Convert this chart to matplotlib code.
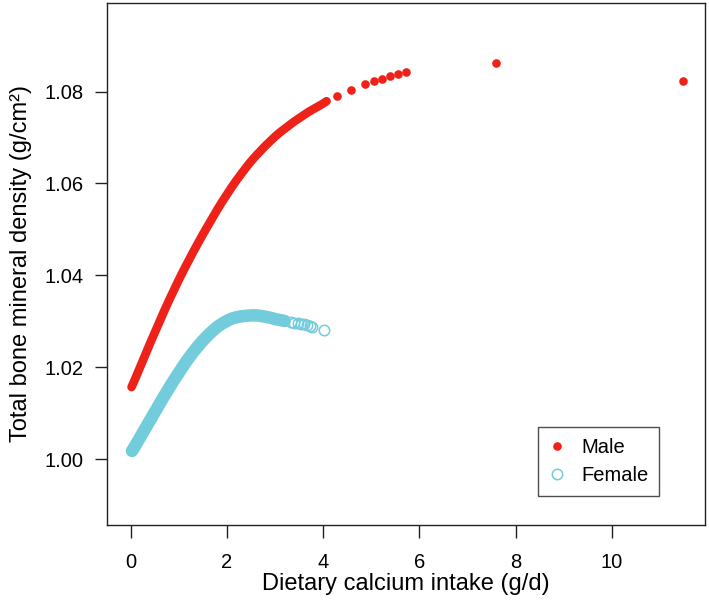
import matplotlib
matplotlib.use("Agg")
import matplotlib.pyplot as plt
from matplotlib.lines import Line2D

plt.rcParams['font.family'] = ['Liberation Sans', 'DejaVu Sans']

# ---- data ----
male_curve_x = [0.02, 0.1, 0.2, 0.3, 0.4, 0.5, 0.6, 0.7, 0.8, 0.9, 1.0, 1.1, 1.2, 1.3, 1.4,
                1.5, 1.6, 1.7, 1.8, 1.9, 2.0, 2.1, 2.2, 2.3, 2.4, 2.5, 2.6, 2.7, 2.8, 2.9,
                3.0, 3.1, 3.2, 3.3, 3.4, 3.5, 3.6, 3.7, 3.8, 3.9, 4.0, 4.07]
male_curve_y = [1.0157, 1.0176, 1.0201, 1.0226, 1.0251, 1.0275, 1.0299, 1.0323, 1.0346, 1.0368,
                1.0390, 1.0411, 1.0431, 1.0451, 1.0470, 1.0489, 1.0507, 1.0525, 1.0543, 1.0560,
                1.0576, 1.0592, 1.0607, 1.0621, 1.0635, 1.0648, 1.0660, 1.0671, 1.0682, 1.0692,
                1.0702, 1.0711, 1.0719, 1.0727, 1.0735, 1.0742, 1.0749, 1.0756, 1.0762, 1.0768,
                1.0774, 1.0779]
male_sparse_x = [4.28, 4.57, 4.87, 5.05, 5.22, 5.38, 5.56, 5.72, 7.58, 11.47]
male_sparse_y = [1.0791, 1.0804, 1.0816, 1.0822, 1.0828, 1.0834, 1.0838, 1.0842, 1.0863, 1.0823]

female_curve_x = [0.03, 0.1, 0.2, 0.3, 0.4, 0.5, 0.6, 0.7, 0.8, 0.9, 1.0, 1.1, 1.2, 1.3, 1.4,
                  1.5, 1.6, 1.7, 1.8, 1.9, 2.0, 2.1, 2.2, 2.3, 2.4, 2.5, 2.6, 2.7, 2.8, 2.9,
                  3.0, 3.1, 3.2]
female_curve_y = [1.0018, 1.0030, 1.0048, 1.0066, 1.0084, 1.0102, 1.0120, 1.0138, 1.0155, 1.0172,
                  1.0188, 1.0204, 1.0219, 1.0233, 1.0246, 1.0258, 1.0269, 1.0279, 1.0288, 1.0295,
                  1.0301, 1.0306, 1.0309, 1.0311, 1.0312, 1.0313, 1.0313, 1.0312, 1.0310, 1.0308,
                  1.0305, 1.0303, 1.0301]
female_sparse_x = [3.34, 3.40, 3.47, 3.53, 3.60, 3.67, 3.72, 3.76, 4.02]
female_sparse_y = [1.0298, 1.0297, 1.0296, 1.0295, 1.0294, 1.0292, 1.0290, 1.0288, 1.0281]

x_ticks = [0, 2, 4, 6, 8, 10]
y_ticks = [1.00, 1.02, 1.04, 1.06, 1.08]
y_tick_labels = ["1.00", "1.02", "1.04", "1.06", "1.08"]
series_labels = ["Male", "Female"]

# ---- styling ----
RED = "#EE2219"
CYAN = "#72CCDB"

fig = plt.figure(figsize=(7.09, 6.04), dpi=100)
ax = fig.add_axes([0.1509, 0.1316, 0.8435, 0.8629])

# dense male band (overlapping filled dots)
ax.plot(male_curve_x, male_curve_y, '-', color=RED, lw=6.2, solid_capstyle='round',
        solid_joinstyle='round', zorder=3)
ax.plot(male_sparse_x, male_sparse_y, 'o', color=RED, ms=6.2, mew=0, zorder=4)

# dense female band (overlapping open circles)
ax.plot(female_curve_x, female_curve_y, '-', color=CYAN, lw=9.0, solid_capstyle='round',
        solid_joinstyle='round', zorder=2)
ax.plot(female_sparse_x, female_sparse_y, 'o', mfc='none', mec=CYAN, ms=7.5, mew=1.1, zorder=2)

ax.set_xlim(-0.49, 11.93)
ax.set_ylim(0.9858, 1.0992)
ax.set_xticks(x_ticks)
ax.set_xticklabels([str(t) for t in x_ticks])
ax.set_yticks(y_ticks)
ax.set_yticklabels(y_tick_labels)

for sp in ax.spines.values():
    sp.set_color('#222222')
    sp.set_linewidth(1.0)

ax.tick_params(axis='x', length=9.5, width=1.0, color='#222222', pad=11, labelsize=14.5)
ax.tick_params(axis='y', length=9.0, width=1.0, color='#222222', pad=8, labelsize=14.5)

ax.set_xlabel("Dietary calcium intake (g/d)", fontsize=17, labelpad=1)
ax.set_ylabel("Total bone mineral density (g/cm²)", fontsize=17, labelpad=9)

handles = [Line2D([], [], ls='none', marker='o', color=RED, ms=6.2, mew=0),
           Line2D([], [], ls='none', marker='o', mfc='none', mec=CYAN, ms=7.5, mew=1.1)]
leg = ax.legend(handles, series_labels, loc='lower right', bbox_to_anchor=(0.9236, 0.0547),
                borderaxespad=0, fontsize=14.5, frameon=True, fancybox=False,
                handlelength=0.8, handletextpad=0.8, borderpad=0.55, labelspacing=0.45)
leg.get_frame().set_edgecolor('#222222')
leg.get_frame().set_linewidth(1.0)

fig.savefig("out.png", dpi=100)
